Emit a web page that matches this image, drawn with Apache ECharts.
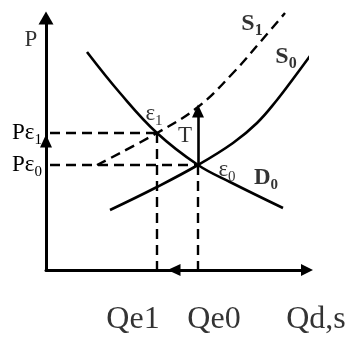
<!DOCTYPE html>
<html><head><meta charset="utf-8">
<script src="https://cdn.jsdelivr.net/npm/echarts@6/dist/echarts.min.js"></script>
<style>html,body{margin:0;padding:0;background:#fff}#c{width:352px;height:339px}</style>
</head><body><div id="c"></div><script>
// Curves (quantity, price)
const demandD0 = [[41,218],[74,177],[111,137],[152,105],[184,88],[237,62]];
const supplyS0 = [[64,60],[109,82],[152,105],[187,127],[211,147],[231,170],[247,191],[264,214]];
const supplyS1 = [[51,105],[111,137],[152,163],[187,197],[216,230],[239,257]];
// Equilibria
const priceE1 = 137, priceE0 = 105;
const qtyE1 = 111, qtyE0 = 152;
const taxTip = 165;
// Tick / annotation texts
const priceTickTexts = ['Pε', 'Pε'];
const priceTickSubs = ['0', '1'];
const annotations = [
  {m:'P', s:'', at:[-15,230], f:23, b:false},
  {m:'ε', s:'1', at:[108,156], f:23, b:false},
  {m:'T', s:'', at:[139,134], f:23, b:false},
  {m:'ε', s:'0', at:[181,100], f:23, b:false},
  {m:'D', s:'0', at:[220,92], f:23, b:true},
  {m:'S', s:'1', at:[206,246], f:24, b:true},
  {m:'S', s:'0', at:[240,213], f:24, b:true},
  {m:'Qe1', s:'', at:[87,-50], f:32, b:false},
  {m:'Qe0', s:'', at:[168,-50], f:32, b:false},
  {m:'Qd,s', s:'', at:[270,-50], f:32, b:false}
];

const FONT = "'Liberation Serif','Times New Roman',serif";
function rich(f, b) {
  return {
    m: {fontFamily: FONT, fontSize: f, fontWeight: b ? 'bold' : 'normal', color: '#000', lineHeight: f + 6},
    s: {fontFamily: FONT, fontSize: Math.round(f * 0.65), fontWeight: b ? 'bold' : 'normal', color: '#000', verticalAlign: 'bottom', lineHeight: Math.round(f * 0.65)}
  };
}
const solid = {color: '#000', width: 2.6};
const dashed = {color: '#000', width: 2.4, type: [10, 6]};

const chart = echarts.init(document.getElementById('c'), null, {renderer: 'canvas'});
chart.setOption({
  animation: false,
  backgroundColor: '#fff',
  grid: {left: 46, right: 45, top: 18, bottom: 69},
  xAxis: {
    type: 'value', min: 0, max: 261,
    splitLine: {show: false}, axisTick: {show: false}, axisLabel: {show: false},
    axisLine: {lineStyle: {color: '#000', width: 3}, symbol: ['none', 'triangle'], symbolSize: [12, 12]}
  },
  yAxis: {
    type: 'value', min: 0, max: 252,
    splitLine: {show: false}, axisTick: {show: false},
    axisLine: {lineStyle: {color: '#000', width: 3}, symbol: ['none', 'triangle'], symbolSize: [15, 13]},
    axisLabel: {
      show: true, margin: 4, customValues: [priceE0, priceE1],
      formatter: v => {
        const i = v === priceE0 ? 0 : 1;
        return '{m|' + priceTickTexts[i] + '}{s|' + priceTickSubs[i] + '}';
      },
      rich: rich(23, false)
    }
  },
  series: [
    {type: 'line', data: demandD0, smooth: 0.4, showSymbol: false, lineStyle: solid, clip: false, silent: true},
    {type: 'line', data: supplyS0, smooth: 0.4, showSymbol: false, lineStyle: solid, clip: false, silent: true},
    {type: 'line', data: supplyS1, smooth: 0.4, showSymbol: false, lineStyle: dashed, clip: false, silent: true},
    {
      type: 'line', data: [], silent: true,
      markLine: {
        silent: true, symbol: ['none', 'none'], label: {show: false}, lineStyle: dashed, animation: false,
        data: [
          [{coord: [4, priceE1]}, {coord: [qtyE1, priceE1]}],
          [{coord: [4, priceE0]}, {coord: [qtyE0, priceE0]}],
          [{coord: [qtyE1, priceE1]}, {coord: [qtyE1, 0]}],
          [{coord: [qtyE0, priceE0]}, {coord: [qtyE0, 0]}]
        ]
      }
    },
    {
      type: 'line', data: [], silent: true,
      markLine: {
        silent: true, symbol: ['none', 'triangle'], symbolSize: [12, 13], label: {show: false},
        lineStyle: {color: '#000', width: 2.6, type: 'solid'}, animation: false,
        data: [
          [{coord: [qtyE0, priceE0]}, {coord: [qtyE0, taxTip - 6]}],
          [{coord: [0, priceE0]}, {coord: [0, priceE1 - 8]}],
          [{coord: [qtyE0, 0]}, {coord: [qtyE1 + 17, 0]}]
        ]
      }
    },
    {
      type: 'scatter', symbolSize: 0, clip: false, silent: true,
      data: annotations.map(a => ({value: a.at, a: a, label: {rich: rich(a.f, a.b)}})),
      label: {
        show: true, position: 'inside', align: 'center', verticalAlign: 'middle',
        formatter: p => '{m|' + p.data.a.m + '}' + (p.data.a.s ? '{s|' + p.data.a.s + '}' : ''),
        rich: rich(22, false)
      },
      labelLayout: {hideOverlap: false}
    }
  ]
});
</script></body></html>
